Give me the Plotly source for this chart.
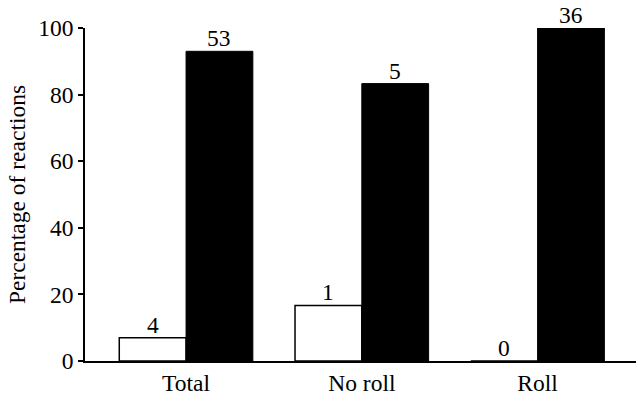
import plotly.graph_objects as go

categories = ["Total", "No roll", "Roll"]
open_pct = [7.0, 16.7, 0.0]
filled_pct = [93.0, 83.3, 100.0]
open_n = ["4", "1", "0"]
filled_n = ["53", "5", "36"]
y_ticks = [0, 20, 40, 60, 80, 100]

FONT = "Liberation Serif"
FS = 23.5
BARGAP = 0.24

fig = go.Figure()
fig.add_trace(go.Bar(
    x=categories, y=open_pct,
    marker=dict(color="white", line=dict(color="black", width=1.5)),
))
fig.add_trace(go.Bar(
    x=categories, y=filled_pct,
    marker=dict(color="black", line=dict(color="black", width=1)),
))

# count labels above each bar, positioned at the grouped bar centres
half = (1 - BARGAP) / 4
for i, cat in enumerate(categories):
    for dx, val, lab in ((-half, open_pct[i], open_n[i]), (half, filled_pct[i], filled_n[i])):
        fig.add_annotation(x=i + dx, y=val, text=lab, showarrow=False,
                           xref="x", yref="y", yanchor="bottom", yshift=-2,
                           font=dict(family=FONT, size=FS, color="black"))

fig.update_layout(
    width=636, height=395,
    margin=dict(l=85, r=0, t=28, b=34, autoexpand=False),
    paper_bgcolor="white", plot_bgcolor="white",
    barmode="group", bargap=BARGAP, bargroupgap=0,
    showlegend=False,
    font=dict(family=FONT, size=FS, color="black"),
    xaxis=dict(range=[-0.575, 2.56], showline=True, linecolor="black", linewidth=1.5,
               ticks="", showgrid=False, zeroline=False, automargin=False,
               tickfont=dict(family=FONT, size=FS)),
    yaxis=dict(range=[0, 100], tickvals=y_ticks, showline=True, linecolor="black",
               linewidth=1.5, ticks="outside", ticklen=5, tickwidth=1.5, tickcolor="black",
               showgrid=False, zeroline=False, automargin=False,
               title=dict(text="Percentage of reactions", font=dict(family=FONT, size=FS), standoff=6),
               tickfont=dict(family=FONT, size=FS)),
)

# remove the default 8px page margin so the figure fills the window exactly
fig.write_html("out.html", config={"displayModeBar": False},
               post_script="document.body.style.margin='0';")
